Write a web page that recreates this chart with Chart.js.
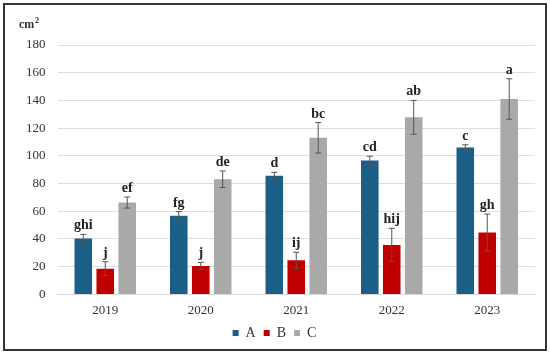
<!DOCTYPE html>
<html>
<head>
<meta charset="utf-8">
<script src="https://cdn.jsdelivr.net/npm/chart.js@4"></script>
<style>
  html, body { margin: 0; padding: 0; background: #fff; }
  #wrap { position: relative; width: 550px; height: 354px; }
  #frame { position: absolute; left: 3px; top: 3px; width: 540px; height: 344px; border: 2px solid #333; pointer-events: none; }
</style>
</head>
<body>
<div id="wrap">
  <canvas id="chart" width="550" height="354"></canvas>
  <div id="frame"></div>
</div>
<script>
const years = ["2019", "2020", "2021", "2022", "2023"];

const valuesA = [40.3, 56.8, 85.6, 96.7, 106];
const valuesB = [18.6, 20.5, 24.6, 35.7, 44.6];
const valuesC = [66.3, 83.1, 113, 127.8, 141];

const errA = [3, 3, 2.5, 3, 2];
const errB = [5, 2.6, 5.8, 12, 13.4];
const errC = [4, 6, 11, 12.2, 14.6];

const lettersA = ["ghi", "fg", "d", "cd", "c"];
const lettersB = ["j", "j", "ij", "hij", "gh"];
const lettersC = ["ef", "de", "bc", "ab", "a"];

const yTicks = [0, 20, 40, 60, 80, 100, 120, 140, 160, 180];

const FONT = "'Liberation Serif', 'DejaVu Serif', serif";

// error bars and letters drawn from the bar elements + y scale
const errorBarPlugin = {
  id: "errorBars",
  afterDatasetsDraw(chart) {
    const ctx = chart.ctx;
    const y = chart.scales.y;
    chart.data.datasets.forEach((ds, i) => {
      const meta = chart.getDatasetMeta(i);
      meta.data.forEach((bar, j) => {
        const v = ds.data[j];
        const e = ds.errors[j];
        const yTop = y.getPixelForValue(v + e);
        const yBot = y.getPixelForValue(v - e);
        ctx.save();
        ctx.strokeStyle = "#555";
        ctx.lineWidth = 1;
        ctx.beginPath();
        ctx.moveTo(bar.x, yTop);
        ctx.lineTo(bar.x, yBot);
        ctx.moveTo(bar.x - 3, yTop);
        ctx.lineTo(bar.x + 3, yTop);
        ctx.moveTo(bar.x - 3, yBot);
        ctx.lineTo(bar.x + 3, yBot);
        ctx.stroke();
        ctx.fillStyle = "#222";
        ctx.font = "bold 14px " + FONT;
        ctx.textAlign = "center";
        ctx.textBaseline = "alphabetic";
        ctx.fillText(ds.letters[j], bar.x, yTop - 5);
        ctx.restore();
      });
    });
  }
};

const unitPlugin = {
  id: "unitLabel",
  afterDraw(chart) {
    const ctx = chart.ctx;
    ctx.save();
    ctx.fillStyle = "#333";
    ctx.font = "bold 12px " + FONT;
    ctx.textAlign = "left";
    ctx.textBaseline = "alphabetic";
    ctx.fillText("cm", 19, 28);
    ctx.font = "bold 8px " + FONT;
    ctx.fillText("2", 35, 23);
    ctx.restore();
  }
};

new Chart(document.getElementById("chart"), {
  type: "bar",
  data: {
    labels: years,
    datasets: [
      { label: "A", data: valuesA, errors: errA, letters: lettersA, backgroundColor: "#1c5f86" },
      { label: "B", data: valuesB, errors: errB, letters: lettersB, backgroundColor: "#c00000" },
      { label: "C", data: valuesC, errors: errC, letters: lettersC, backgroundColor: "#a9a9a9" }
    ]
  },
  options: {
    responsive: false,
    animation: false,
    devicePixelRatio: 1,
    categoryPercentage: 0.69,
    barPercentage: 0.8,
    layout: { padding: { left: 14, right: 15, top: 45, bottom: 4 } },
    plugins: {
      legend: {
        position: "bottom",
        labels: {
          boxWidth: 6,
          boxHeight: 6,
          padding: 8,
          color: "#333",
          font: { family: FONT, size: 14 }
        }
      },
      tooltip: { enabled: false }
    },
    scales: {
      x: {
        grid: { display: false },
        border: { color: "#d9d9d9" },
        ticks: { color: "#333", font: { family: FONT, size: 13 }, padding: 0 }
      },
      y: {
        min: 0,
        max: 180,
        afterBuildTicks(axis) { axis.ticks = yTicks.map(v => ({ value: v })); },
        grid: { color: "#dedede", drawTicks: false },
        border: { display: false },
        ticks: { color: "#333", font: { family: FONT, size: 13 }, padding: 12 }
      }
    }
  },
  plugins: [errorBarPlugin, unitPlugin]
});
</script>
</body>
</html>
